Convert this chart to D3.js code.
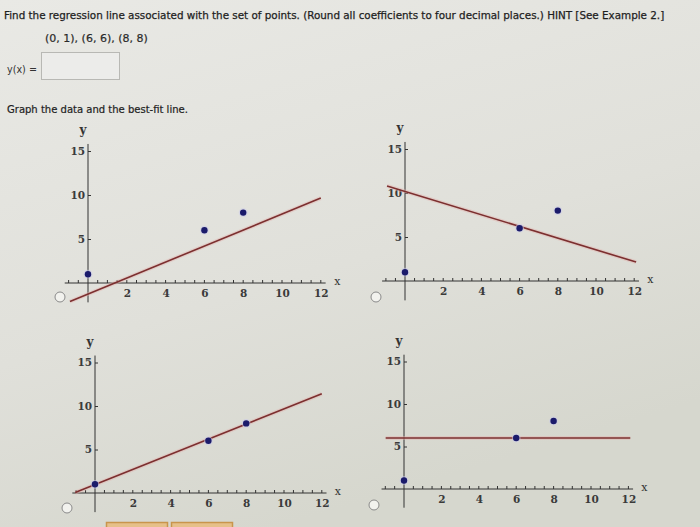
<!DOCTYPE html>
<html>
<head>
<meta charset="utf-8">
<script src="https://cdn.jsdelivr.net/npm/d3@7"></script>
<style>
  html, body { margin: 0; padding: 0; }
  body { width: 700px; height: 527px; overflow: hidden; }
  svg { display: block; }
</style>
</head>
<body>
<svg id="chart" width="700" height="527"></svg>
<script>
// ---------------- data ----------------
const questionText = "Find the regression line associated with the set of points. (Round all coefficients to four decimal places.) HINT [See Example 2.]";
const pointsText = "(0, 1), (6, 6), (8, 8)";
const answerLabel = "y(x) =";
const graphPrompt = "Graph the data and the best-fit line.";

const pointX = [0, 6, 8];
const pointY = [1, 6, 8];

const xTickValues = [2, 4, 6, 8, 10, 12];
const yTickValues = [5, 10, 15];

// candidate best-fit lines (one per answer option), endpoints
const lineStartX = [-0.93, -0.94, -1.05, -0.98];
const lineStartY = [-2.1, 10.8, 0.05, 6.0];
const lineEndX   = [12.0, 12.1, 12.0, 12.1];
const lineEndY   = [9.65, 2.15, 11.4, 6.0];

// ---------------- layout (pixels) ----------------
const panels = [
  { ox: 88,  oy: 283, ux: 19.4, uy: 8.8, radio: [60, 297] },
  { ox: 405, oy: 281, ux: 19.1, uy: 8.8, radio: [376, 297] },
  { ox: 95,  oy: 493, ux: 18.9, uy: 8.7, radio: [67, 508] },
  { ox: 404, oy: 489, ux: 18.7, uy: 8.5, radio: [374, 505] }
];

const svg = d3.select("#chart");

// background (photo of a screen: light grey, slightly darker toward the bottom)
const defs = svg.append("defs");
const grad = defs.append("linearGradient").attr("id", "bg")
  .attr("x1", "0").attr("y1", "0").attr("x2", "0.4").attr("y2", "1");
grad.append("stop").attr("offset", "0").attr("stop-color", "#e9e9e5");
grad.append("stop").attr("offset", "0.6").attr("stop-color", "#e0e0da");
grad.append("stop").attr("offset", "1").attr("stop-color", "#d6d7ce");
svg.append("rect").attr("width", 700).attr("height", 527).attr("fill", "url(#bg)");

const sansFont = "'DejaVu Sans', Verdana, sans-serif";
const serifFont = "'DejaVu Serif', 'Liberation Serif', serif";

function fitText(sel, targetWidth) {
  const w = sel.node().getComputedTextLength();
  const fs = parseFloat(sel.attr("font-size"));
  sel.attr("font-size", (fs * targetWidth / w).toFixed(2));
}

const q = svg.append("text").attr("x", 4).attr("y", 19)
  .attr("font-family", sansFont).attr("font-size", 12).attr("fill", "#1e1e1e")
  .attr("stroke", "#1e1e1e").attr("stroke-width", 0.25)
  .text(questionText);
fitText(q, 660);

const pt = svg.append("text").attr("x", 45).attr("y", 42)
  .attr("font-family", sansFont).attr("font-size", 12).attr("fill", "#2a2a2a")
  .attr("stroke", "#2a2a2a").attr("stroke-width", 0.2)
  .text(pointsText);
fitText(pt, 103);

const al = svg.append("text").attr("x", 7).attr("y", 73)
  .attr("font-family", sansFont).attr("font-size", 10).attr("fill", "#333")
  .text(answerLabel);
fitText(al, 30);

svg.append("rect").attr("x", 41.5).attr("y", 52.5).attr("width", 78).attr("height", 27)
  .attr("fill", "#ececea").attr("stroke", "#b8b8b4").attr("stroke-width", 1);

const gp = svg.append("text").attr("x", 7).attr("y", 113)
  .attr("font-family", sansFont).attr("font-size", 11).attr("fill", "#1e1e1e")
  .attr("stroke", "#1e1e1e").attr("stroke-width", 0.2)
  .text(graphPrompt);
fitText(gp, 181);

// ---------------- panels ----------------
panels.forEach((p, i) => {
  const x = d3.scaleLinear().domain([0, 1]).range([p.ox, p.ox + p.ux]);
  const y = d3.scaleLinear().domain([0, 1]).range([p.oy, p.oy - p.uy]);
  const g = svg.append("g");

  // radio button
  g.append("circle").attr("cx", p.radio[0]).attr("cy", p.radio[1]).attr("r", 5)
    .attr("fill", "#f2f2ee").attr("stroke", "#8a8a8a").attr("stroke-width", 1);

  // x axis line
  g.append("line").attr("x1", x(-1.2)).attr("x2", x(12.25))
    .attr("y1", y(0)).attr("y2", y(0)).attr("stroke", "#333").attr("stroke-width", 1);
  // minor ticks every 0.5 pointing up
  const minor = d3.range(-1, 12.01, 0.5).filter(v => v !== 0);
  g.selectAll(null).data(minor).join("line")
    .attr("x1", d => x(d)).attr("x2", d => x(d))
    .attr("y1", y(0)).attr("y2", y(0) - 3)
    .attr("stroke", "#333").attr("stroke-width", 1);

  // x tick labels via d3 axis (labels below, no tick lines)
  const xAxis = d3.axisBottom(x).tickValues(xTickValues).tickSize(0).tickPadding(7)
    .tickFormat(d3.format("d"));
  const xg = g.append("g").attr("transform", `translate(0,${y(0)})`).call(xAxis);
  xg.select(".domain").remove();
  xg.selectAll("text").attr("font-family", serifFont).attr("font-size", 10.5)
    .attr("font-weight", "bold").attr("fill", "#3a3a3a");

  // y axis line
  g.append("line").attr("x1", x(0)).attr("x2", x(0))
    .attr("y1", y(-2.2)).attr("y2", y(15.8)).attr("stroke", "#333").attr("stroke-width", 1);
  const yAxis = d3.axisRight(y).tickValues(yTickValues).tickSize(3).tickPadding(-17)
    .tickFormat(d3.format("d"));
  const yg = g.append("g").attr("transform", `translate(${x(0)},0)`).call(yAxis);
  yg.select(".domain").remove();
  yg.selectAll("line").attr("stroke", "#333");
  yg.selectAll("text").attr("text-anchor", "end").attr("x", -3)
    .attr("font-family", serifFont).attr("font-size", 10.5)
    .attr("font-weight", "bold").attr("fill", "#3a3a3a");

  // axis letters
  g.append("text").attr("x", x(0) - 5).attr("y", y(15.8) - 10)
    .attr("text-anchor", "middle").attr("font-family", serifFont).attr("font-size", 12)
    .attr("font-weight", "bold").attr("fill", "#333").text("y");
  g.append("text").attr("x", x(12.85)).attr("y", y(0) + 2)
    .attr("text-anchor", "middle").attr("font-family", serifFont).attr("font-size", 11)
    .attr("fill", "#333").text("x");

  // best-fit line (soft pink halo + dark red core)
  const seg = [[lineStartX[i], lineStartY[i]], [lineEndX[i], lineEndY[i]]];
  const lineGen = d3.line().x(d => x(d[0])).y(d => y(d[1]));
  g.append("path").attr("d", lineGen(seg)).attr("fill", "none")
    .attr("stroke", "#e2b4b0").attr("stroke-width", 4).attr("stroke-opacity", 0.45);
  g.append("path").attr("d", lineGen(seg)).attr("fill", "none")
    .attr("stroke", "#7c2f2f").attr("stroke-width", 1.6);

  // data points
  const pts = pointX.map((v, k) => [v, pointY[k]]);
  g.selectAll(null).data(pts).join("circle")
    .attr("cx", d => x(d[0])).attr("cy", d => y(d[1])).attr("r", 4.4)
    .attr("fill", "#c9c9ea").attr("opacity", 0.55);
  g.selectAll(null).data(pts).join("circle")
    .attr("cx", d => x(d[0])).attr("cy", d => y(d[1])).attr("r", 3.2)
    .attr("fill", "#1b1b6b");
});

// partially visible buttons at the bottom edge
[[106, 61], [171, 61]].forEach(b => {
  svg.append("rect").attr("x", b[0] + 0.5).attr("y", 522.5).attr("width", b[1]).attr("height", 10)
    .attr("fill", "#e6c089").attr("stroke", "#c9954c").attr("stroke-width", 1.5);
});
</script>
</body>
</html>
